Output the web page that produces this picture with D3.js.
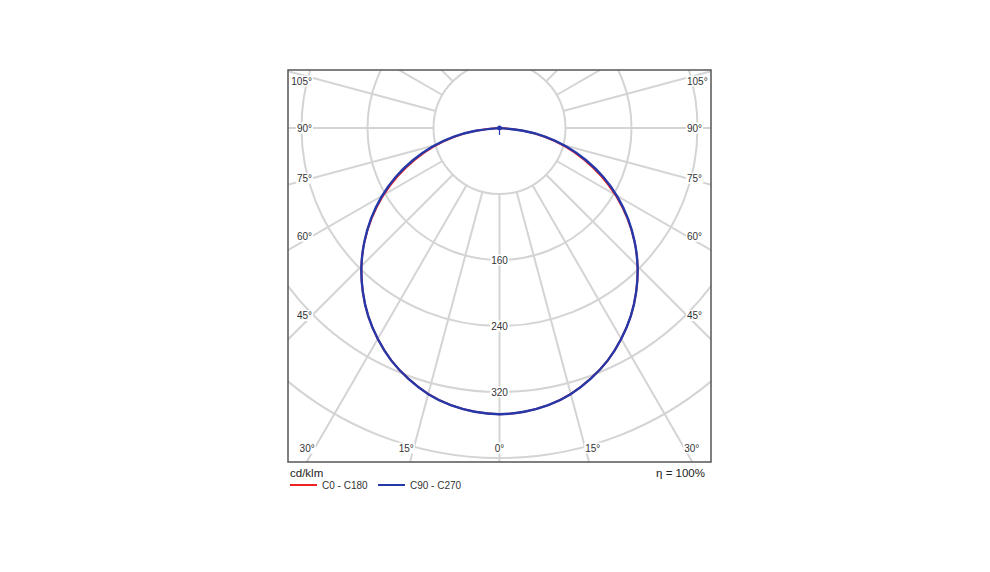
<!DOCTYPE html>
<html>
<head>
<meta charset="utf-8">
<script src="https://cdn.jsdelivr.net/npm/d3@7"></script>
<style>
  body { margin: 0; background: #fff; }
  svg { display: block; font-family: "Liberation Sans", Arial, sans-serif; }
  .grid { fill: none; stroke: #d4d4d4; stroke-width: 2; }
  .lbl { font-size: 10px; fill: #333; }
</style>
</head>
<body>
<script>
// luminous intensity (cd/klm) against gamma angle, 0..90 step 5
var gammaAngles = [0, 5, 10, 15, 20, 25, 30, 35, 40, 45, 50, 55, 60, 65, 70, 75, 80, 85, 90];
var c0c180  = [348, 346, 342, 335, 324, 312, 296, 279, 259, 238, 215, 190, 164, 137, 109, 82, 55, 27, 0];
var c90c270 = [348, 346, 342, 335, 324, 312, 296, 279, 259, 238, 215, 191, 166, 140, 112, 85, 57, 29, 0];

var ringValues = [80, 160, 240, 320, 400];
var ringLabels = [160, 240, 320];
var spokeAngles = [0, 15, 30, 45, 60, 75, 90, 105, 120, 135, 150, 165, 180];
var sideLabels = [45, 60, 75, 90, 105];
var bottomLabels = [30, 15, 0, 15, 30];

var width = 990, height = 572;
var frame = {left: 288, top: 70, right: 711, bottom: 462};
var cx = 499.5, cy = 128;

var svg = d3.select('body').append('svg')
    .attr('width', width).attr('height', height);

var r = d3.scaleLinear().domain([0, 400]).range([0, 330]);

svg.append('clipPath').attr('id', 'frameClip')
  .append('rect')
    .attr('x', frame.left).attr('y', frame.top)
    .attr('width', frame.right - frame.left).attr('height', frame.bottom - frame.top);

var plot = svg.append('g').attr('clip-path', 'url(#frameClip)');
var g = plot.append('g').attr('transform', 'translate(' + cx + ',' + cy + ')');

// rings
g.selectAll('.ring')
  .data(ringValues)
  .enter().append('circle')
    .attr('class', 'grid')
    .attr('r', function(d) { return r(d); });

// spokes, both sides, starting at the innermost ring
function toXY(gamma, value) {
  var a = gamma * Math.PI / 180;
  return [r(value) * Math.sin(a), r(value) * Math.cos(a)];
}
var spokes = [];
spokeAngles.forEach(function(a) {
  spokes.push(a);
  if (a != 0 && a != 180) spokes.push(-a);
});
g.selectAll('.spoke')
  .data(spokes)
  .enter().append('line')
    .attr('class', 'grid')
    .attr('x1', function(d) { return toXY(d, 80)[0]; })
    .attr('y1', function(d) { return toXY(d, 80)[1]; })
    .attr('x2', function(d) { return toXY(d, 700)[0]; })
    .attr('y2', function(d) { return toXY(d, 700)[1]; });

// label with a white box behind
function boxedLabel(parent, x, y, text, anchor, size) {
  var t = parent.append('text')
      .attr('class', 'lbl')
      .attr('x', x).attr('y', y)
      .attr('dy', '0.35em')
      .attr('text-anchor', anchor)
      .style('font-size', size + 'px')
      .text(text);
  var b = t.node().getBBox();
  parent.insert('rect', function() { return t.node(); })
      .attr('x', b.x - 1).attr('y', b.y)
      .attr('width', b.width + 2).attr('height', b.height)
      .attr('fill', '#fff');
}

var labels = svg.append('g');

// ring value labels on the 0 deg spoke
ringLabels.forEach(function(v) {
  boxedLabel(labels, cx, cy + r(v), v, 'middle', 10);
});

// side angle labels
var insetL = frame.left + 24, insetR = frame.right - 24;
sideLabels.forEach(function(a) {
  var yL = cy + (cx - insetL) * Math.tan((90 - a) * Math.PI / 180);
  yL = Math.max(yL, frame.top + 11);
  boxedLabel(labels, insetL, yL, a + '°', 'end', 10);
  boxedLabel(labels, insetR, yL, a + '°', 'start', 10);
});

// bottom angle labels
var yB = frame.bottom - 14;
bottomLabels.forEach(function(a, i) {
  var side = i < 2 ? -1 : (i > 2 ? 1 : 0);
  var x = cx + side * (yB - cy) * Math.tan(a * Math.PI / 180);
  boxedLabel(labels, x, yB, a + '°', side < 0 ? 'end' : (side > 0 ? 'start' : 'middle'), 10);
});

// curves: right half C0 / C90, left half mirrored C180 / C270
function curvePoints(values) {
  var pts = [];
  for (var i = gammaAngles.length - 1; i >= 0; i--) pts.push(toXY(-gammaAngles[i], values[i]));
  for (var j = 1; j < gammaAngles.length; j++) pts.push(toXY(gammaAngles[j], values[j]));
  return pts;
}
var line = d3.line().curve(d3.curveBasis);

g.append('path')
    .attr('d', line(curvePoints(c0c180)))
    .attr('fill', 'none')
    .attr('stroke', '#ee2222')
    .attr('stroke-width', 2);

g.append('path')
    .attr('d', line(curvePoints(c90c270)))
    .attr('fill', 'none')
    .attr('stroke', '#2538aa')
    .attr('stroke-width', 2.4);

g.append('circle').attr('r', 2.4).attr('fill', '#2538aa');
g.append('line')
    .attr('y1', 0).attr('y2', 7)
    .attr('stroke', '#2538aa').attr('stroke-width', 1.2);

// frame
svg.append('rect')
    .attr('x', frame.left).attr('y', frame.top)
    .attr('width', frame.right - frame.left).attr('height', frame.bottom - frame.top)
    .attr('fill', 'none')
    .attr('stroke', '#555')
    .attr('stroke-width', 1.5);

// footer
svg.append('text')
    .attr('x', frame.left + 2).attr('y', 477)
    .style('font-size', '11.5px').attr('fill', '#222')
    .text('cd/klm');
svg.append('text')
    .attr('x', frame.right - 6).attr('y', 477)
    .attr('text-anchor', 'end')
    .style('font-size', '11.5px').attr('fill', '#222')
    .text('η = 100%');

var legend = [
  {name: 'C0 - C180', color: '#ee2222', x: 290},
  {name: 'C90 - C270', color: '#2538aa', x: 378}
];
var lg = svg.selectAll('.legend')
  .data(legend)
  .enter().append('g')
    .attr('transform', function(d) { return 'translate(' + d.x + ',485)'; });
lg.append('line')
    .attr('x1', 0).attr('x2', 27)
    .attr('stroke', function(d) { return d.color; })
    .attr('stroke-width', 2);
lg.append('text')
    .attr('x', 32).attr('dy', '0.35em')
    .style('font-size', '10px').attr('fill', '#333')
    .text(function(d) { return d.name; });
</script>
</body>
</html>
